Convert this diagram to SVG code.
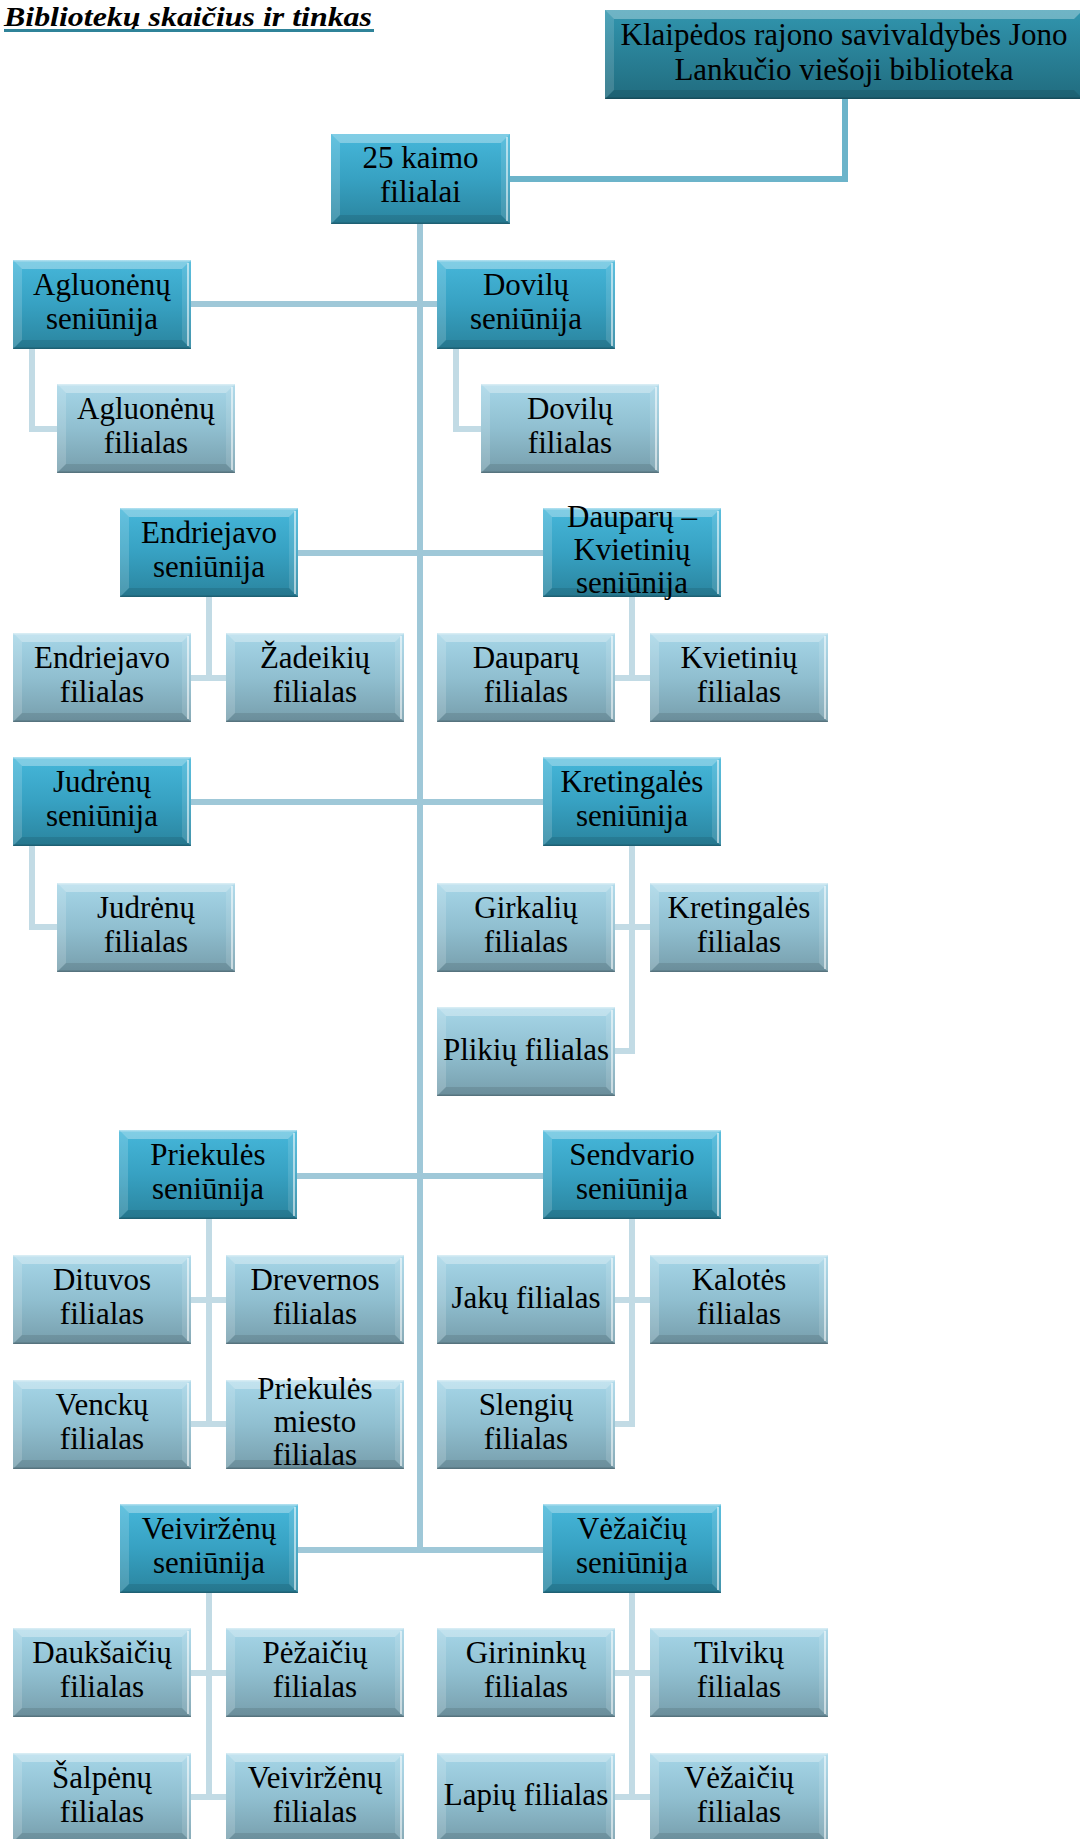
<svg xmlns="http://www.w3.org/2000/svg" xmlns:xlink="http://www.w3.org/1999/xlink" width="1080" height="1839" viewBox="0 0 1080 1839">
<style>
.t{font-family:"Liberation Serif","Times New Roman",serif;font-size:31px;fill:#000;text-anchor:middle}
.title{font-family:"Liberation Serif","Times New Roman",serif;font-size:28px;font-weight:bold;font-style:italic;fill:#000}
.trunk{fill:none;stroke:#9fc8d8;stroke-width:6}
.top{fill:none;stroke:#6cb4ca;stroke-width:6}
.child{fill:none;stroke:#c2dbe5;stroke-width:6}
</style>
<defs>
<linearGradient id="gSen" x1="0" y1="0" x2="0" y2="1">
<stop offset="0" stop-color="#46b7da"/>
<stop offset="0.5" stop-color="#37a1c2"/>
<stop offset="1" stop-color="#2a849e"/>
</linearGradient>
<linearGradient id="gChild" x1="0" y1="0" x2="0" y2="1">
<stop offset="0" stop-color="#a6d6e8"/>
<stop offset="0.5" stop-color="#90bfd0"/>
<stop offset="1" stop-color="#779eac"/>
</linearGradient>
<linearGradient id="gTop" x1="0" y1="0" x2="0" y2="1">
<stop offset="0" stop-color="#3195ae"/>
<stop offset="1" stop-color="#216c7f"/>
</linearGradient>
<g id="bev">
<polygon points="0,0 178,0 169,9 9,9" fill="#ffffff" fill-opacity="0.32"/>
<polygon points="0,0 9,9 9,80 0,89" fill="#ffffff" fill-opacity="0.16"/>
<polygon points="178,0 178,89 169,80 169,9" fill="#ffffff" fill-opacity="0.12"/>
<polygon points="0,89 9,80 169,80 178,89" fill="#000000" fill-opacity="0.10"/>
<rect x="174" y="3" width="2" height="83" fill="#ffffff" fill-opacity="0.55"/>
<rect x="0" y="0" width="178" height="1.5" fill="#ffffff" fill-opacity="0.35"/>
<rect x="0" y="87.5" width="178" height="1.5" fill="#000000" fill-opacity="0.18"/>
</g>
<g id="boxS">
<rect x="0" y="0" width="178" height="89" fill="url(#gSen)"/>
<use xlink:href="#bev"/>
</g>
<g id="boxC">
<rect x="0" y="0" width="178" height="89" fill="url(#gChild)"/>
<use xlink:href="#bev"/>
</g>
</defs>

<g id="title">
<text class="title" x="4" y="26" textLength="368" lengthAdjust="spacingAndGlyphs">Bibliotekų skaičius ir tinkas</text>
<rect x="4" y="29" width="370" height="3" fill="#2f8399"/>
</g>

<g id="connectors">
<path class="top" d="M510 179 H845 V99"/>
<path class="trunk" d="M420 224 V1550"/>
<path class="trunk" d="M190 304 H437"/>
<path class="trunk" d="M297 553 H543"/>
<path class="trunk" d="M190 802 H543"/>
<path class="trunk" d="M297 1176 H543"/>
<path class="trunk" d="M297 1550 H543"/>
<path class="child" d="M32 349 V429 H57"/>
<path class="child" d="M456 349 V429 H481"/>
<path class="child" d="M32 846 V927 H57"/>
<path class="child" d="M209 597 V678 M191 678 H226"/>
<path class="child" d="M632 597 V678 M615 678 H650"/>
<path class="child" d="M632 846 V1051 H615 M615 927 H650"/>
<path class="child" d="M209 1219 V1424 M191 1300 H226 M191 1424 H226"/>
<path class="child" d="M632 1219 V1424 H615 M615 1300 H650"/>
<path class="child" d="M209 1593 V1797 M191 1673 H226 M191 1797 H226"/>
<path class="child" d="M632 1593 V1797 M615 1673 H650 M615 1797 H650"/>
</g>

<g id="n-top">
<rect x="605" y="10" width="478" height="89" fill="url(#gTop)"/>
<polygon points="605,10 1083,10 1074,19 614,19" fill="#ffffff" fill-opacity="0.3"/>
<polygon points="605,10 614,19 614,90 605,99" fill="#ffffff" fill-opacity="0.14"/>
<polygon points="605,99 614,90 1074,90 1083,99" fill="#000000" fill-opacity="0.1"/>
<rect x="605" y="97.5" width="478" height="1.5" fill="#000000" fill-opacity="0.2"/>
<text class="t" x="844" y="45">Klaipėdos rajono savivaldybės Jono</text>
<text class="t" x="844" y="80">Lankučio viešoji biblioteka</text>
</g>

<g id="n-root">
<rect x="331" y="134" width="179" height="90" fill="url(#gSen)"/>
<polygon points="331,134 510,134 501,143 340,143" fill="#ffffff" fill-opacity="0.32"/>
<polygon points="331,134 340,143 340,215 331,224" fill="#ffffff" fill-opacity="0.16"/>
<polygon points="510,134 510,224 501,215 501,143" fill="#ffffff" fill-opacity="0.12"/>
<polygon points="331,224 340,215 501,215 510,224" fill="#000000" fill-opacity="0.1"/>
<rect x="506" y="137" width="2" height="84" fill="#ffffff" fill-opacity="0.55"/>
<rect x="331" y="222.5" width="179" height="1.5" fill="#000000" fill-opacity="0.18"/>
<text class="t" x="420.5" y="168">25 kaimo</text>
<text class="t" x="420.5" y="202">filialai</text>
</g>

<g id="n-agluonenu-sen"><use xlink:href="#boxS" x="13" y="260"/><text class="t" x="102" y="294.5">Agluonėnų</text><text class="t" x="102" y="328.5">seniūnija</text></g>
<g id="n-doviliu-sen"><use xlink:href="#boxS" x="437" y="260"/><text class="t" x="526" y="294.5">Dovilų</text><text class="t" x="526" y="328.5">seniūnija</text></g>
<g id="n-endriejavo-sen"><use xlink:href="#boxS" x="120" y="508"/><text class="t" x="209" y="542.5">Endriejavo</text><text class="t" x="209" y="576.5">seniūnija</text></g>
<g id="n-dauparu-sen"><use xlink:href="#boxS" x="543" y="508"/><text class="t" x="632" y="526.5">Dauparų –</text><text class="t" x="632" y="559.5">Kvietinių</text><text class="t" x="632" y="592.5">seniūnija</text></g>
<g id="n-judrenu-sen"><use xlink:href="#boxS" x="13" y="757"/><text class="t" x="102" y="791.5">Judrėnų</text><text class="t" x="102" y="825.5">seniūnija</text></g>
<g id="n-kretingales-sen"><use xlink:href="#boxS" x="543" y="757"/><text class="t" x="632" y="791.5">Kretingalės</text><text class="t" x="632" y="825.5">seniūnija</text></g>
<g id="n-priekules-sen"><use xlink:href="#boxS" x="119" y="1130"/><text class="t" x="208" y="1164.5">Priekulės</text><text class="t" x="208" y="1198.5">seniūnija</text></g>
<g id="n-sendvario-sen"><use xlink:href="#boxS" x="543" y="1130"/><text class="t" x="632" y="1164.5">Sendvario</text><text class="t" x="632" y="1198.5">seniūnija</text></g>
<g id="n-veivirzenu-sen"><use xlink:href="#boxS" x="120" y="1504"/><text class="t" x="209" y="1538.5">Veiviržėnų</text><text class="t" x="209" y="1572.5">seniūnija</text></g>
<g id="n-vezaiciu-sen"><use xlink:href="#boxS" x="543" y="1504"/><text class="t" x="632" y="1538.5">Vėžaičių</text><text class="t" x="632" y="1572.5">seniūnija</text></g>

<g id="n-agluonenu-fil"><use xlink:href="#boxC" x="57" y="384"/><text class="t" x="146" y="418.5">Agluonėnų</text><text class="t" x="146" y="452.5">filialas</text></g>
<g id="n-doviliu-fil"><use xlink:href="#boxC" x="481" y="384"/><text class="t" x="570" y="418.5">Dovilų</text><text class="t" x="570" y="452.5">filialas</text></g>
<g id="n-endriejavo-fil"><use xlink:href="#boxC" x="13" y="633"/><text class="t" x="102" y="667.5">Endriejavo</text><text class="t" x="102" y="701.5">filialas</text></g>
<g id="n-zadeikiu-fil"><use xlink:href="#boxC" x="226" y="633"/><text class="t" x="315" y="667.5">Žadeikių</text><text class="t" x="315" y="701.5">filialas</text></g>
<g id="n-dauparu-fil"><use xlink:href="#boxC" x="437" y="633"/><text class="t" x="526" y="667.5">Dauparų</text><text class="t" x="526" y="701.5">filialas</text></g>
<g id="n-kvietiniu-fil"><use xlink:href="#boxC" x="650" y="633"/><text class="t" x="739" y="667.5">Kvietinių</text><text class="t" x="739" y="701.5">filialas</text></g>
<g id="n-judrenu-fil"><use xlink:href="#boxC" x="57" y="883"/><text class="t" x="146" y="917.5">Judrėnų</text><text class="t" x="146" y="951.5">filialas</text></g>
<g id="n-girkaliu-fil"><use xlink:href="#boxC" x="437" y="883"/><text class="t" x="526" y="917.5">Girkalių</text><text class="t" x="526" y="951.5">filialas</text></g>
<g id="n-kretingales-fil"><use xlink:href="#boxC" x="650" y="883"/><text class="t" x="739" y="917.5">Kretingalės</text><text class="t" x="739" y="951.5">filialas</text></g>
<g id="n-plikiu-fil"><use xlink:href="#boxC" x="437" y="1007"/><text class="t" x="526" y="1060">Plikių filialas</text></g>
<g id="n-dituvos-fil"><use xlink:href="#boxC" x="13" y="1255"/><text class="t" x="102" y="1289.5">Dituvos</text><text class="t" x="102" y="1323.5">filialas</text></g>
<g id="n-drevernos-fil"><use xlink:href="#boxC" x="226" y="1255"/><text class="t" x="315" y="1289.5">Drevernos</text><text class="t" x="315" y="1323.5">filialas</text></g>
<g id="n-jaku-fil"><use xlink:href="#boxC" x="437" y="1255"/><text class="t" x="526" y="1308">Jakų filialas</text></g>
<g id="n-kalotes-fil"><use xlink:href="#boxC" x="650" y="1255"/><text class="t" x="739" y="1289.5">Kalotės</text><text class="t" x="739" y="1323.5">filialas</text></g>
<g id="n-venck-fil"><use xlink:href="#boxC" x="13" y="1380"/><text class="t" x="102" y="1414.5">Venckų</text><text class="t" x="102" y="1448.5">filialas</text></g>
<g id="n-priekules-miesto-fil"><use xlink:href="#boxC" x="226" y="1380"/><text class="t" x="315" y="1398.5">Priekulės</text><text class="t" x="315" y="1431.5">miesto</text><text class="t" x="315" y="1464.5">filialas</text></g>
<g id="n-slengiu-fil"><use xlink:href="#boxC" x="437" y="1380"/><text class="t" x="526" y="1414.5">Slengių</text><text class="t" x="526" y="1448.5">filialas</text></g>
<g id="n-dauksaiciu-fil"><use xlink:href="#boxC" x="13" y="1628"/><text class="t" x="102" y="1662.5">Daukšaičių</text><text class="t" x="102" y="1696.5">filialas</text></g>
<g id="n-pezaiciu-fil"><use xlink:href="#boxC" x="226" y="1628"/><text class="t" x="315" y="1662.5">Pėžaičių</text><text class="t" x="315" y="1696.5">filialas</text></g>
<g id="n-girininku-fil"><use xlink:href="#boxC" x="437" y="1628"/><text class="t" x="526" y="1662.5">Girininkų</text><text class="t" x="526" y="1696.5">filialas</text></g>
<g id="n-tilviku-fil"><use xlink:href="#boxC" x="650" y="1628"/><text class="t" x="739" y="1662.5">Tilvikų</text><text class="t" x="739" y="1696.5">filialas</text></g>
<g id="n-salpenu-fil"><use xlink:href="#boxC" x="13" y="1753"/><text class="t" x="102" y="1787.5">Šalpėnų</text><text class="t" x="102" y="1821.5">filialas</text></g>
<g id="n-veivirzenu-fil"><use xlink:href="#boxC" x="226" y="1753"/><text class="t" x="315" y="1787.5">Veiviržėnų</text><text class="t" x="315" y="1821.5">filialas</text></g>
<g id="n-lapiu-fil"><use xlink:href="#boxC" x="437" y="1753"/><text class="t" x="526" y="1805">Lapių filialas</text></g>
<g id="n-vezaiciu-fil"><use xlink:href="#boxC" x="650" y="1753"/><text class="t" x="739" y="1787.5">Vėžaičių</text><text class="t" x="739" y="1821.5">filialas</text></g>
</svg>
